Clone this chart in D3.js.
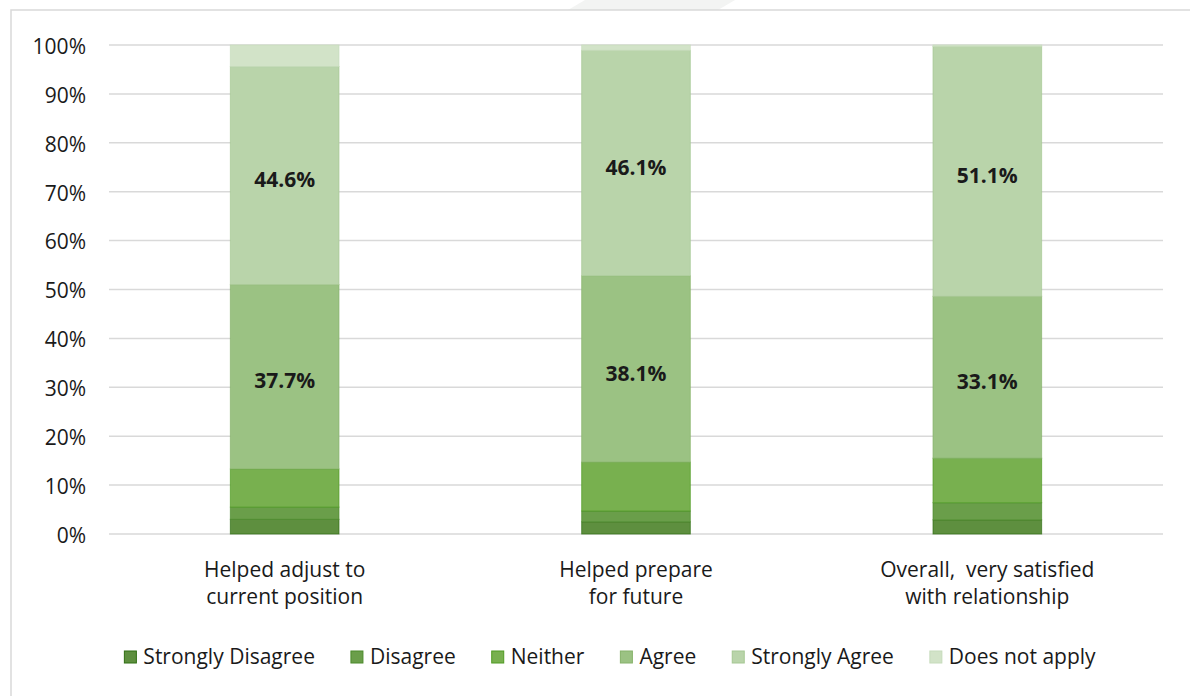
<!DOCTYPE html>
<html><head><meta charset="utf-8">
<script src="https://cdn.jsdelivr.net/npm/d3@7/dist/d3.min.js"></script>
<style>body{margin:0;background:#fff}svg{display:block}text{font-family:"Open Sans","Noto Sans",sans-serif;fill:#1a1a1a;white-space:pre}</style>
</head><body>
<svg id="c" width="1190" height="696"></svg>
<script>
const categories = [["Helped adjust to","current position"],["Helped prepare","for future"],["Overall,  very satisfied","with relationship"]];
const seriesNames = ["Strongly Disagree","Disagree","Neither","Agree","Strongly Agree","Does not apply"];
const stronglyDisagree = [3.0, 2.5, 2.9];
const disagree = [2.5, 2.2, 3.5];
const neither = [7.8, 10.0, 9.1];
const agree = [37.7, 38.1, 33.1];
const stronglyAgree = [44.6, 46.1, 51.1];
const doesNotApply = [4.4, 1.1, 0.3];
const yTicks = [0,10,20,30,40,50,60,70,80,90,100];
const colors = ["#5e8f3f","#6a9e4a","#78b04f","#9bc283","#b9d4aa","#d2e3c8"];
const strokes = ["#2f6e12","#4a8a2a","#4f9a22","#86b26a","#a5c793","#c6dbbb"];

const series = [stronglyDisagree, disagree, neither, agree, stronglyAgree, doesNotApply];
const rows = categories.map((c,i)=>{const o={key:i}; seriesNames.forEach((s,j)=>o[s]=series[j][i]); return o;});
const stack = d3.stack().keys(seriesNames)(rows);

const svg = d3.select("#c");
// frame
svg.append("path").attr("d","M585,0 L735,0 L718,10 L568,10 Z").attr("fill","#f3f4f3");
svg.append("rect").attr("x",11).attr("y",10).attr("width",1200).attr("height",700)
  .attr("fill","none").attr("stroke","#d9d9d9").attr("stroke-width",1.5);

const x = d3.scaleBand().domain(d3.range(categories.length)).range([109,1163]).paddingInner(0.688).paddingOuter(0.344);
const y = d3.scaleLinear().domain([0,100]).range([534,45]);

// grid
svg.append("g").selectAll("line").data(yTicks).join("line")
  .attr("x1",109).attr("x2",1163).attr("y1",d=>y(d)).attr("y2",d=>y(d))
  .attr("stroke","#d9d9d9").attr("stroke-width",1.5);

// y axis labels
const yAxis = d3.axisLeft(y).tickValues(yTicks).tickFormat(d=>d+"%").tickSize(0).tickPadding(0);
const ya = svg.append("g").attr("transform","translate(86,1)").call(yAxis);
ya.select(".domain").remove();
ya.selectAll("text").style("font-size","21px").style("font-family",'"Open Sans",sans-serif').attr("fill","#1a1a1a").attr("dy","0.35em");

// bars
stack.forEach((layer,j)=>{
  svg.append("g").selectAll("rect").data(layer).join("rect")
    .attr("x",(d,i)=>x(i)+0.5).attr("width",x.bandwidth()-1)
    .attr("y",d=>y(d[1])).attr("height",d=>Math.max(0,y(d[0])-y(d[1])))
    .attr("fill",colors[j]).attr("stroke",strokes[j]).attr("stroke-width",1).attr("stroke-opacity",0.7);
});

// data labels for Agree and Strongly Agree
[3,4].forEach(j=>{
  svg.append("g").selectAll("text").data(stack[j]).join("text")
    .attr("x",(d,i)=>x(i)+x.bandwidth()/2).attr("y",d=>(y(d[0])+y(d[1]))/2+6)
    .attr("text-anchor","middle").attr("dominant-baseline","middle")
    .style("font-size","21px").style("font-weight","bold")
    .text(d=>(d[1]-d[0]).toFixed(1)+"%");
});

// category labels
const cg = svg.append("g").selectAll("text").data(categories).join("text")
  .attr("x",(d,i)=>x(i)+x.bandwidth()/2).attr("y",577).attr("text-anchor","middle")
  .style("font-size","21px");
cg.selectAll("tspan").data(d=>d).join("tspan")
  .attr("x",function(){return this.parentNode.getAttribute("x");})
  .attr("dy",(d,i)=>i===0?0:27).text(d=>d);

// legend
const lg = svg.append("g");
const items = seriesNames.map((s,j)=>{
  const g = lg.append("g");
  g.append("rect").attr("width",12).attr("height",12).attr("y",-6).attr("fill",colors[j]).attr("stroke",strokes[j]).attr("stroke-width",1);
  const t = g.append("text").attr("x",19).attr("dominant-baseline","middle").attr("y",1).style("font-size","21px").style("font-family",'"Open Sans",sans-serif').text(s);
  return {g, w:19+t.node().getComputedTextLength()};
});
const gap = 36;
const total = d3.sum(items,d=>d.w)+gap*(items.length-1);
let cx = 610-total/2;
items.forEach(it=>{it.g.attr("transform",`translate(${cx},657)`); cx+=it.w+gap;});
</script>
</body></html>
